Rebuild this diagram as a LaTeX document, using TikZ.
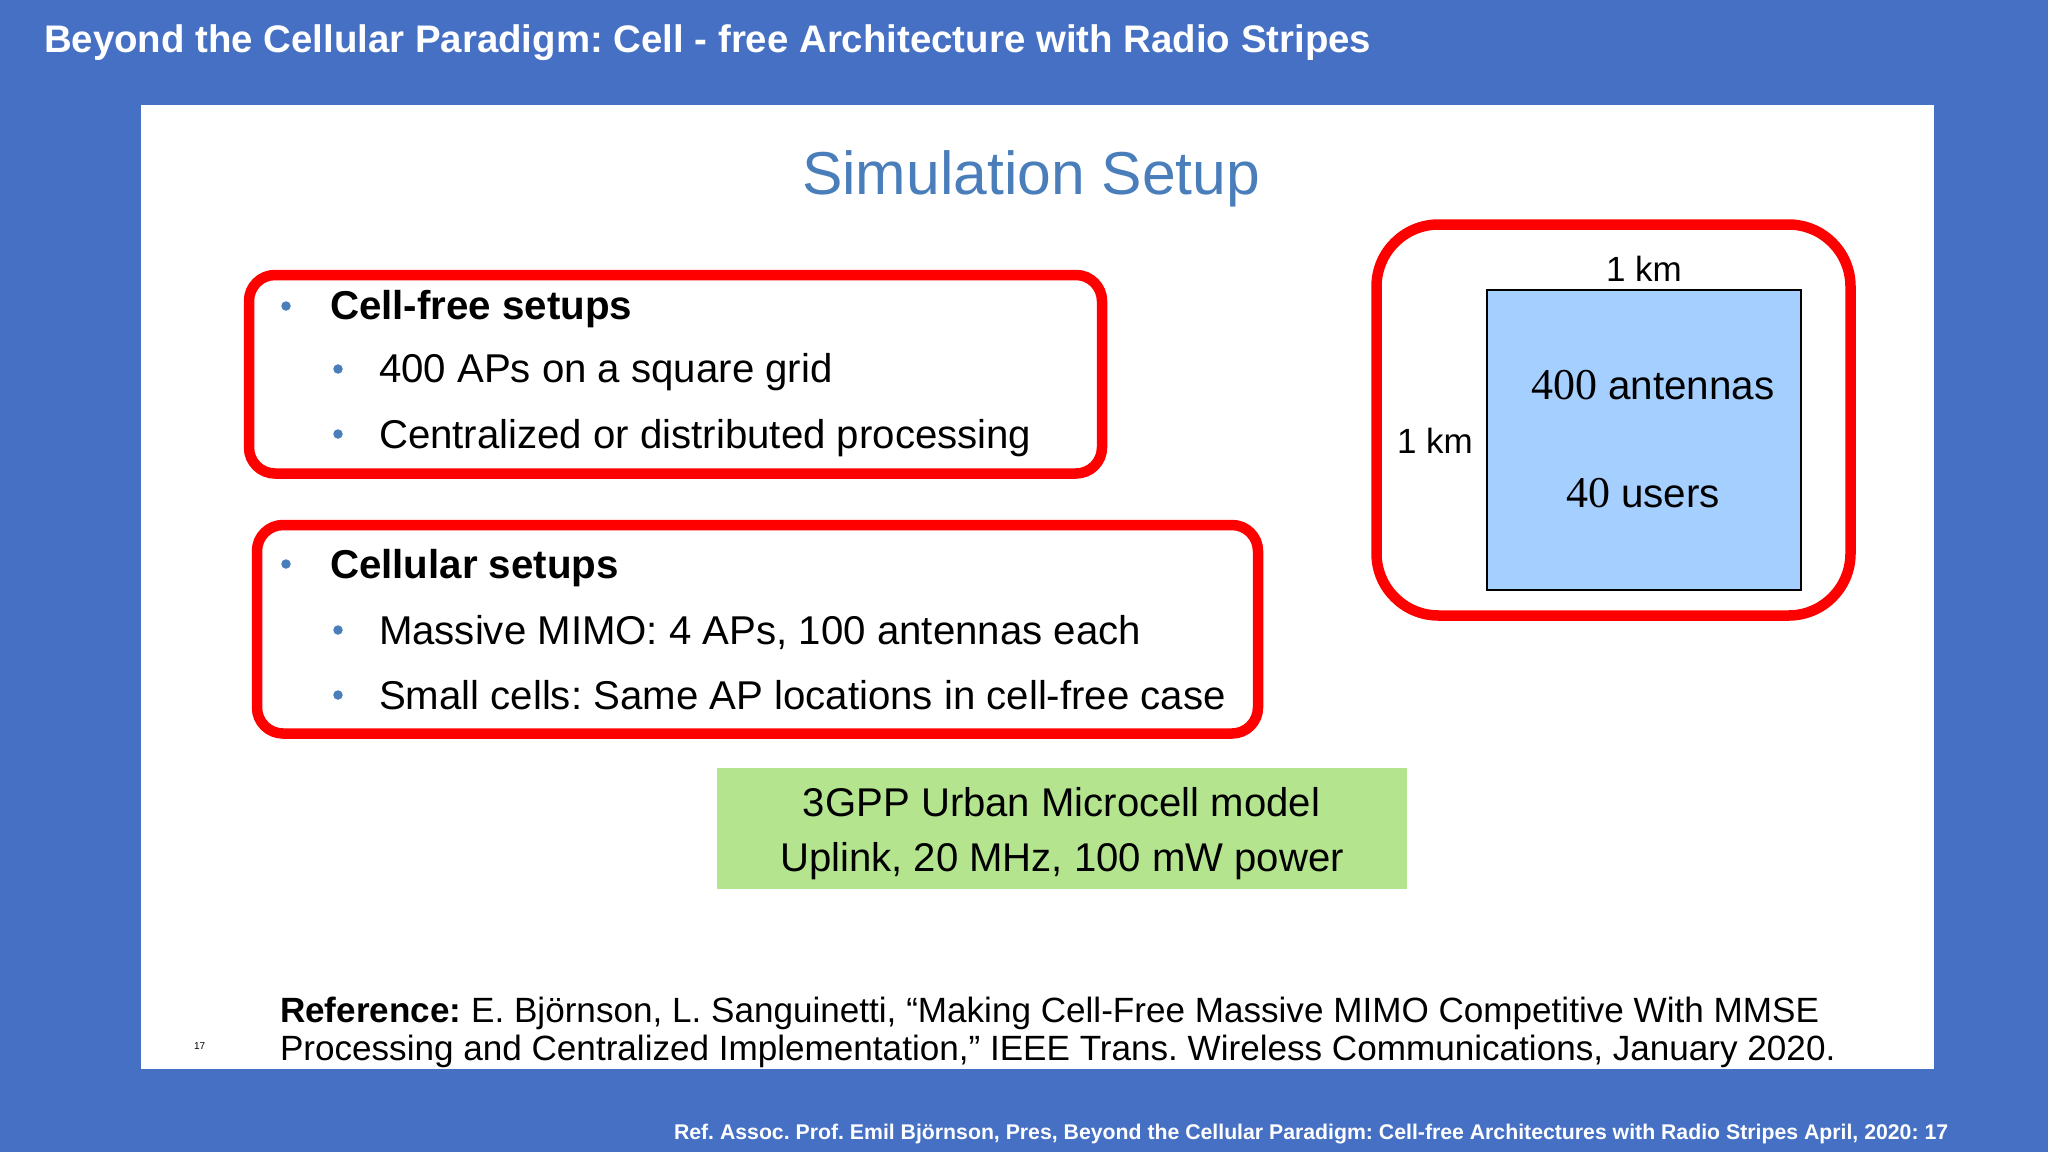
\documentclass[tikz,border=0pt]{standalone}
\usepackage{fontspec}
\setmainfont{Liberation Sans}
\newfontfamily\numfont{Liberation Serif}
\definecolor{slidebg}{HTML}{4570C4}
\definecolor{titleblue}{HTML}{4A7EBB}
\definecolor{boxred}{HTML}{FF0000}
\definecolor{squareblue}{HTML}{A4CFFF}
\definecolor{greenbox}{HTML}{B4E48E}
\newcommand{\fs}[1]{\fontsize{#1}{#1}\selectfont}
\frenchspacing
\tikzset{
  x=1pt,y=-1pt,
  txt/.style={anchor=base west,inner sep=0pt,outer sep=0pt,text=black},
  redbox/.style={draw=boxred,line width=10.5pt,rounded corners=#1,fill=none},
  bulletdot/.style={circle,fill=titleblue,inner sep=0pt,minimum size=9.5pt},
  head/.style={txt,font=\fs{40.3}\bfseries},
  item/.style={txt,font=\fs{40.2}},
}
\begin{document}
\begin{tikzpicture}
\frenchspacing
\useasboundingbox (0,0) rectangle (2048,1152);
\fill[slidebg] (0,0) rectangle (2048,1152);
\fill[white] (141,105) rectangle (1934,1069);
\node[txt,text=white,font=\fs{38.4}\bfseries] (title) at (44,52) {Beyond the Cellular Paradigm: Cell - free Architecture with Radio Stripes};
\node[txt,text=titleblue,font=\fs{60.6}] (simsetup) at (802,194) {Simulation Setup};
% red frames
\draw[redbox=26pt] (249,275) rectangle (1102,473.5);
\draw[redbox=26pt] (257,525) rectangle (1258,733.5);
\draw[redbox=62pt] (1376.5,224.5) rectangle (1850.5,615.5);
% cell-free list
\node[bulletdot] (b1) at (286,306) {};
\node[head] (t1) at (330,319) {Cell-free setups};
\node[bulletdot] (b2) at (338,369) {};
\node[item] (t2) at (379,382) {400 APs on a square grid};
\node[bulletdot] (b3) at (338,434) {};
\node[item] (t3) at (379,448) {Centralized or distributed processing};
% cellular list
\node[bulletdot] (b4) at (286,564) {};
\node[head] (t4) at (330,578) {Cellular setups};
\node[bulletdot] (b5) at (338,630) {};
\node[item] (t5) at (379,644) {Massive MIMO: 4 APs, 100 antennas each};
\node[bulletdot] (b6) at (338,695) {};
\node[item] (t6) at (379,709) {Small cells: Same AP locations in cell-free case};
% square
\draw[black,line width=2.5pt,fill=squareblue] (1487,290) rectangle (1801,590);
\node[txt,font=\fs{35}] (km1) at (1606,281) {1 km};
\node[txt,font=\fs{35}] (km2) at (1397,453) {1 km};
\node[txt,font=\fs{40.4}] (ant) at (1531,399) {{\fs{44}\numfont 400} antennas};
\node[txt,font=\fs{40.4}] (usr) at (1566,507) {{\fs{44}\numfont 40} users};
% green
\fill[greenbox] (717,768) rectangle (1407,889);
\node[txt,anchor=base,font=\fs{40.1}] (g1) at (1061.5,816) {3GPP Urban Microcell model};
\node[txt,anchor=base,font=\fs{40.1}] (g2) at (1062,871) {Uplink, 20 MHz, 100 mW power};
% reference
\node[txt,font=\fs{35.1}] (r1) at (280,1022) {\textbf{Reference:} E. Björnson, L. Sanguinetti, “Making Cell-Free Massive MIMO Competitive With MMSE};
\node[txt,font=\fs{35.1}] (r2) at (280,1060) {Processing and Centralized Implementation,” IEEE Trans. Wireless Communications, January 2020.};
\node[txt,font=\fs{10}] (pg) at (194,1049) {17};
\node[txt,text=white,font=\fs{21.25}\bfseries] (foot) at (674,1139.5) {Ref. Assoc. Prof. Emil Björnson, Pres, Beyond the Cellular Paradigm: Cell-free Architectures with Radio Stripes April, 2020: 17};
\end{tikzpicture}
\end{document}
